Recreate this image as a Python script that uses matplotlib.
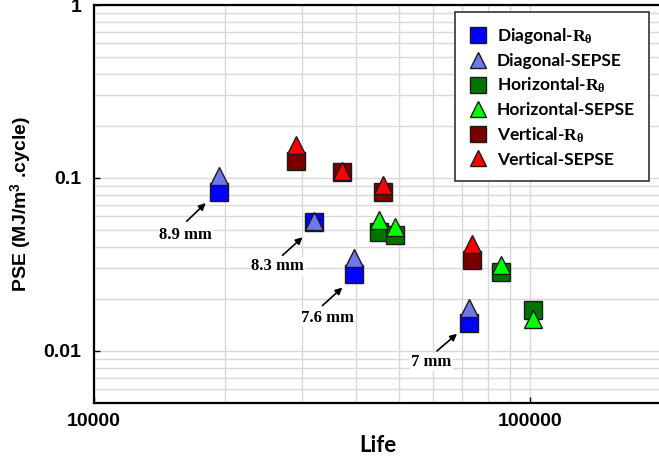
import matplotlib
matplotlib.use("Agg")
import matplotlib.pyplot as plt
from matplotlib.ticker import FixedLocator, LogLocator, NullFormatter, FuncFormatter

plt.rcParams['mathtext.fontset'] = 'custom'
plt.rcParams['mathtext.rm'] = 'Liberation Serif:bold'
plt.rcParams['mathtext.bf'] = 'Liberation Serif:bold'
plt.rcParams['mathtext.it'] = 'Liberation Serif:bold:italic'
plt.rcParams['mathtext.sf'] = 'Liberation Sans:bold'

# ---- data ----
life_diag = [19400, 32000, 39400, 72700]
pse_diag_r = [0.0829, 0.0555, 0.0277, 0.01445]
pse_diag_s = [0.1027, 0.0562, 0.0343, 0.0176]

life_horiz = [45000, 49000, 85700, 101600]
pse_horiz_r = [0.0486, 0.0465, 0.0287, 0.01714]
pse_horiz_s = [0.0568, 0.0523, 0.0315, 0.01534]

life_vert = [29000, 37000, 46000, 73800]
pse_vert_r = [0.126, 0.108, 0.0832, 0.0337]
pse_vert_s = [0.156, 0.109, 0.0914, 0.0415]

ann_labels = ['8.9 mm', '8.3 mm', '7.6 mm', '7 mm']
ann_text = [(16230, 0.0466), (26370, 0.0308), (34310, 0.01556), (59360, 0.00863)]
ann_tail = [(16320, 0.0562), (27070, 0.0357), (33420, 0.01828), (61230, 0.0100)]
ann_tip = [(18040, 0.0716), (30090, 0.0454), (37140, 0.02324), (68080, 0.01256)]

x_minor = [20000, 30000, 40000, 50000, 60000, 70000, 80000, 90000]

fig = plt.figure(figsize=(6.59, 4.58), dpi=100)
W, H = 659, 458
ax = fig.add_axes([94 / W, (H - 403) / H, (661 - 94) / W, (403 - 5) / H])

ec = '#1a1a1a'
ms = 12.5
series = [
    (life_diag, pse_diag_r, 's', '#0000FF', r'Diagonal-$\mathbf{R_{\theta}}$', 3),
    (life_diag, pse_diag_s, '^', '#6E78EB', 'Diagonal-SEPSE', 4),
    (life_horiz, pse_horiz_r, 's', '#007400', r'Horizontal-$\mathbf{R_{\theta}}$', 3),
    (life_horiz, pse_horiz_s, '^', '#00FF00', 'Horizontal-SEPSE', 4),
    (life_vert, pse_vert_r, 's', '#780000', r'Vertical-$\mathbf{R_{\theta}}$', 3),
    (life_vert, pse_vert_s, '^', '#FF0000', 'Vertical-SEPSE', 4),
]
for xs, ys, mk, col, lab, z in series:
    ax.plot(xs, ys, linestyle='none', marker=mk, markersize=ms, markerfacecolor=col,
            markeredgecolor=ec, markeredgewidth=1.0, label=lab, zorder=z)

ax.set_xscale('log')
ax.set_yscale('log')
ax.set_xlim(10000, 200000)
ax.set_ylim(0.005, 1)

ax.xaxis.set_minor_locator(FixedLocator(x_minor))
ax.xaxis.set_minor_formatter(NullFormatter())
ax.yaxis.set_major_locator(LogLocator(base=10))
ax.yaxis.set_minor_locator(LogLocator(base=10, subs=[2, 3, 4, 5, 6, 7, 8, 9]))
ax.yaxis.set_minor_formatter(NullFormatter())
fmt = FuncFormatter(lambda v, p: '%g' % v)
ax.xaxis.set_major_formatter(fmt)
ax.yaxis.set_major_formatter(fmt)

ax.grid(True, which='both', color='#D9D9D9', linewidth=1.0, zorder=0)
ax.set_axisbelow(True)

for s in ax.spines.values():
    s.set_linewidth(1.6)
    s.set_color('black')

ax.tick_params(which='major', direction='in', length=4, width=1, pad=9)
ax.tick_params(axis='x', which='major', pad=7)
ax.tick_params(which='minor', length=0)
for lbl in ax.get_xticklabels() + ax.get_yticklabels():
    lbl.set_fontfamily('Liberation Sans')
    lbl.set_fontweight('bold')
    lbl.set_fontsize(14)

ax.set_xlabel('Life', fontfamily='Lato', fontweight='bold', fontsize=16, labelpad=4)
ax.set_ylabel(r'PSE (MJ/m$^{\mathsf{3}}$ .cycle)', fontfamily='Liberation Sans',
              fontweight='bold', fontsize=14, labelpad=7)

for lab, tp, tl, tip in zip(ann_labels, ann_text, ann_tail, ann_tip):
    ax.annotate('', xy=tip, xytext=tl,
                arrowprops=dict(arrowstyle='-|>', color='black', lw=1.2,
                                mutation_scale=10, shrinkA=0, shrinkB=0), zorder=5)
    ax.text(tp[0], tp[1], lab, ha='center', va='center', fontfamily='Liberation Serif',
            fontweight='bold', fontsize=12, zorder=5,
            bbox=dict(facecolor='white', edgecolor='none', pad=1))

leg = ax.legend(loc='upper right', bbox_to_anchor=(0.979, 0.982), borderaxespad=0,
                prop={'family': 'Lato', 'weight': 'bold', 'size': 12.5},
                frameon=True, fancybox=False, edgecolor='#333333', framealpha=1,
                borderpad=0.8, labelspacing=0.4, handletextpad=0.55, markerscale=0.9,
                handlelength=1.1)
leg.get_frame().set_linewidth(1.2)
leg.set_zorder(6)

fig.savefig('out.png', dpi=100)
